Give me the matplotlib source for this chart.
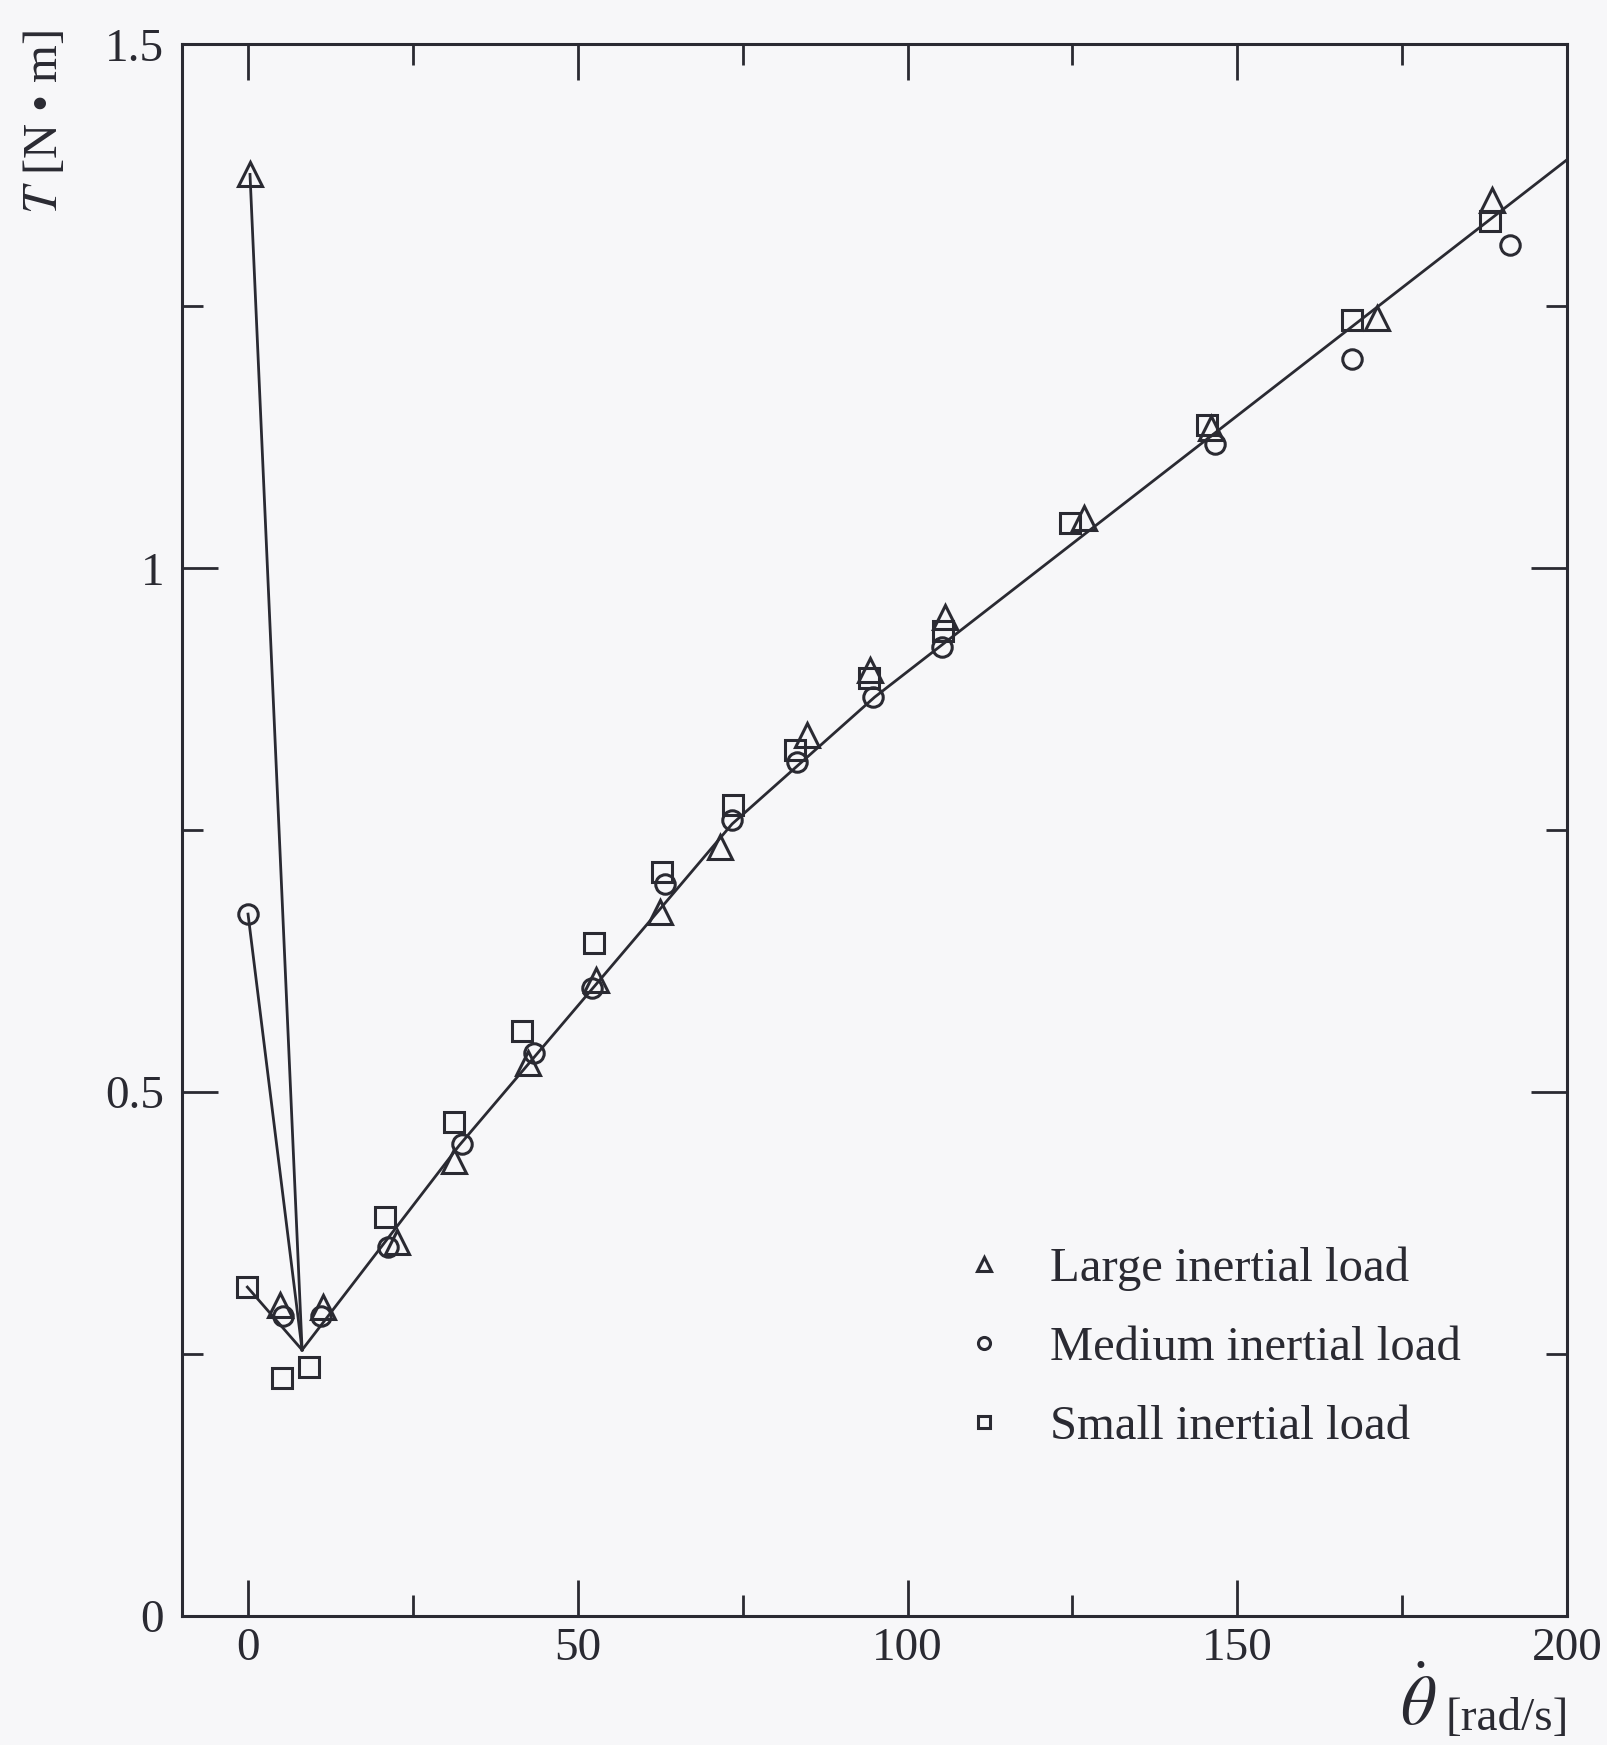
import numpy as np
import matplotlib
matplotlib.use("Agg")
import matplotlib.pyplot as plt

plt.rcParams['font.family'] = ['Liberation Serif', 'DejaVu Serif']
plt.rcParams['mathtext.fontset'] = 'stix'

# measured torque vs. angular velocity for three inertial loads
large_x = [0.3, 4.9, 11.4, 22.6, 31.2, 42.5, 52.7, 62.5, 71.6, 84.7, 94.3, 105.7, 126.7, 146.0, 171.2, 188.7]
large_t = [1.376, 0.297, 0.295, 0.357, 0.434, 0.528, 0.607, 0.672, 0.734, 0.841, 0.903, 0.954, 1.048, 1.134, 1.239, 1.352]

medium_x = [0.0, 5.3, 11.0, 21.2, 32.5, 43.3, 52.2, 63.3, 73.4, 83.3, 94.8, 105.2, 146.6, 167.4, 191.3]
medium_t = [0.670, 0.286, 0.286, 0.352, 0.451, 0.537, 0.599, 0.699, 0.760, 0.815, 0.877, 0.925, 1.119, 1.200, 1.309]

small_x = [-0.1, 5.2, 9.2, 20.8, 31.3, 41.6, 52.5, 62.8, 73.6, 83.0, 94.2, 105.4, 124.7, 145.4, 167.4, 188.3]
small_t = [0.314, 0.227, 0.238, 0.381, 0.472, 0.558, 0.642, 0.710, 0.774, 0.827, 0.895, 0.940, 1.043, 1.137, 1.237, 1.332]

# friction model curve (common branch after the minimum)
fit_x = [8.2, 32.0, 62.5, 73.4, 95.0, 200.0]
fit_t = [0.254, 0.449, 0.675, 0.756, 0.877, 1.39]

labels = ['Large inertial load', 'Medium inertial load', 'Small inertial load']
x_ticks = [0, 50, 100, 150, 200]
y_ticks = [0, 0.5, 1, 1.5]
y_ticklabels = ['0', '0.5', '1', '1.5']

ink = '#2a2a32'
bg = '#f7f7f9'

fig = plt.figure(figsize=(16.07, 17.45), dpi=100, facecolor=bg)
ax = fig.add_axes([0.1133, 0.0739, 0.8618, 0.9006], facecolor=bg)

# static-to-kinetic drop for each load
for xs, ts in [(large_x, large_t), (medium_x, medium_t), (small_x, small_t)]:
    ax.plot([xs[0], fit_x[0]], [ts[0], fit_t[0]], color=ink, lw=2.0, zorder=2)
ax.plot(fit_x, fit_t, color=ink, lw=2.0, zorder=2)

mk = dict(linestyle='none', markerfacecolor='none', markeredgecolor=ink, markeredgewidth=2.2, zorder=3)
ax.plot(large_x, large_t, marker='^', markersize=17, label=labels[0], **mk)
ax.plot(medium_x, medium_t, marker='o', markersize=14, label=labels[1], **mk)
ax.plot(small_x, small_t, marker='s', markersize=14, label=labels[2], **mk)

ax.set_xlim(-10, 200)
ax.set_ylim(0, 1.5)
ax.set_xticks(x_ticks)
ax.set_xticks([25, 75, 125, 175], minor=True)
ax.set_yticks(y_ticks, y_ticklabels)
ax.set_yticks([0.25, 0.75, 1.25], minor=True)

ax.tick_params(which='both', direction='in', top=True, right=True, color=ink, width=2.0)
ax.tick_params(which='major', length=26, labelsize=34, labelcolor=ink)
ax.tick_params(axis='x', which='major', pad=8)
ax.tick_params(axis='y', which='major', pad=13)
ax.tick_params(which='minor', length=15)
for s in ax.spines.values():
    s.set_linewidth(2.2)
    s.set_color(ink)

leg = ax.legend(loc='upper left', bbox_to_anchor=(0.5974, 0.2855), bbox_transform=fig.transFigure,
                frameon=False, fontsize=35, markerscale=0.62, handlelength=1.0,
                handletextpad=0.85, labelspacing=0.72, borderpad=0, borderaxespad=0)
for t in leg.get_texts():
    t.set_color(ink)

fig.text(0.028, 1 - 122 / 1745, r'$T$ [N • m]', rotation=90, ha='center', va='center',
         fontsize=35, color=ink)
fig.text(0.976, 0.003, '[rad/s]', ha='right', va='bottom', fontsize=34, color=ink)
fig.text(0.894, 0.003, r'$\dot{\theta}$', ha='right', va='bottom', fontsize=50, color=ink)

fig.savefig('out.png', dpi=100, facecolor=bg)
